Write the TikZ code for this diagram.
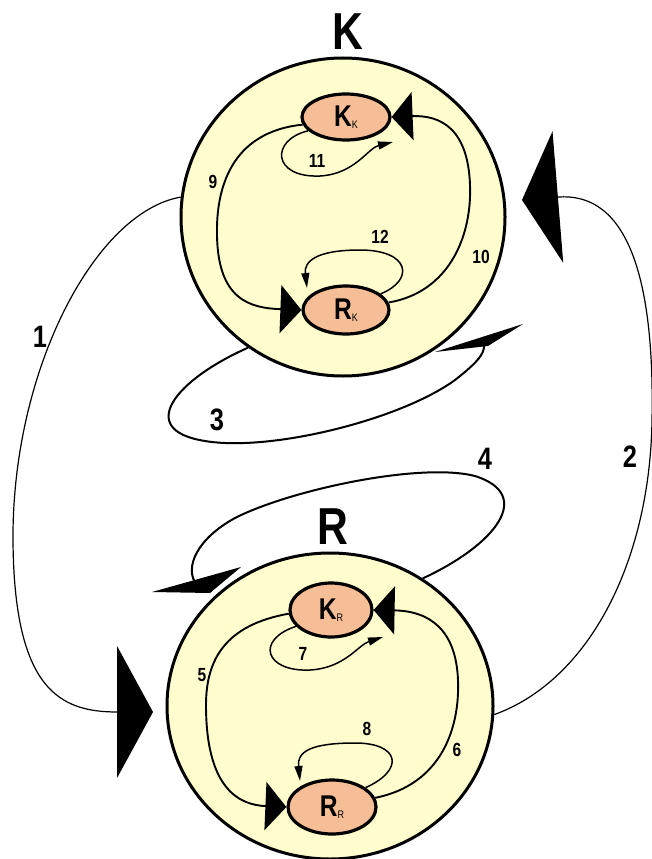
\documentclass[tikz,border=0pt]{standalone}
\usepackage{fontspec}
\setmainfont[FakeStretch=0.82]{Liberation Sans}
\usetikzlibrary{shapes.geometric,arrows.meta}
\definecolor{cream}{RGB}{255,253,205}
\definecolor{peach}{RGB}{245,190,150}
\newcommand\stlbl[2]{{\fontsize{30}{30}\selectfont\bfseries #1}\raisebox{-1.5pt}{\fontsize{11}{11}\selectfont #2}}
\tikzset{
  bigcirc/.style={ellipse, draw, line width=3pt, fill=cream, inner sep=0pt},
  statenode/.style={ellipse, draw, line width=3.2pt, fill=peach, inner sep=0pt},
  inarrow/.style={line width=1.9pt, -{Triangle[length=21pt,width=48pt]}},
  loopline/.style={line width=1.5pt, -{Triangle[length=15pt,width=8pt]}},
  outarrow/.style={line width=1.2pt, -{Triangle[length=36pt,width=132pt]}},
  swirl/.style={line width=2pt},
  wedge/.style={fill=black},
  biglbl/.style={font=\bfseries\fontsize{31}{31}\selectfont, inner sep=0pt},
  smlbl/.style={font=\bfseries\fontsize{19}{19}\selectfont, inner sep=0pt},
  title/.style={font=\bfseries\fontsize{52}{52}\selectfont, inner sep=0pt}
}
\begin{document}
\begin{tikzpicture}[x=1pt,y=-1pt]
\useasboundingbox (0,0) rectangle (651,859);
% big circles
\node[bigcirc, minimum width=324pt, minimum height=318pt] (Kc) at (343,217) {};
\node[bigcirc, minimum width=326pt, minimum height=306pt] (Rc) at (330,706) {};
% titles
\node[title] (tK) at (348,32) {K};
\node[title] (tR) at (333,527) {R};
% state nodes
\node[statenode, minimum width=88pt, minimum height=46pt] (KK) at (346,117) {\stlbl{K}{K}};
\node[statenode, minimum width=86pt, minimum height=48pt] (RK) at (346,310) {\stlbl{R}{K}};
\node[statenode, minimum width=82pt, minimum height=54pt] (KR) at (331,610) {\stlbl{K}{R}};
\node[statenode, minimum width=88pt, minimum height=54pt] (RR) at (332,807) {\stlbl{R}{R}};
% free ends
\coordinate (t1) at (153,712);
\coordinate (t2) at (522,200);
\coordinate (e3) at (484,346);
\coordinate (e4) at (195,582);
\coordinate (e7) at (383,637);
\coordinate (e8) at (300,781);
\coordinate (e11) at (393,142);
\coordinate (e12) at (307,288);
% outer arrows 1 and 2
\draw[outarrow] (Kc.173) .. controls (95,212) and (12,370) .. (13,540)
   .. controls (14,690) and (60,712) .. (t1);
\draw[outarrow] (Rc.-3) .. controls (590,680) and (650,560) .. (652,420)
   .. controls (655,260) and (620,192) .. (t2);
% swirl 3
\draw[swirl] (Kc.234) .. controls (175,380) and (135,430) .. (205,441)
   .. controls (270,452) and (400,420) .. (455,380)
   .. controls (478,362) and (484,354) .. (e3);
\fill[wedge] (435,352) -- (523,324) -- (488,346) -- cycle;
% swirl 4
\draw[swirl] (Rc.54) .. controls (495,545) and (535,495) .. (475,476)
   .. controls (420,462) and (290,490) .. (235,518)
   .. controls (195,540) and (186,568) .. (e4);
\fill[wedge] (152,592) -- (241,567) -- (210,593) -- cycle;
% inner arrows, top circle
\draw[inarrow] (KK.190) .. controls (230,132) and (216,190) .. (217,235)
   .. controls (218,300) and (250,308) .. (RK.west);
\draw[inarrow] (RK.10) .. controls (450,292) and (472,235) .. (470,185)
   .. controls (468,128) and (440,115) .. (KK.east);
\draw[loopline] (KK.200) .. controls (270,140) and (272,178) .. (320,176)
   .. controls (355,174) and (368,148) .. (e11);
\draw[loopline] (RK.25) .. controls (415,280) and (410,250) .. (360,250)
   .. controls (315,250) and (304,262) .. (e12);
% inner arrows, bottom circle
\draw[inarrow] (KR.185) .. controls (225,625) and (206,660) .. (206,705)
   .. controls (206,790) and (240,805) .. (RR.west);
\draw[inarrow] (RR.12) .. controls (440,785) and (460,730) .. (458,680)
   .. controls (456,630) and (430,611) .. (KR.east);
\draw[loopline] (KR.205) .. controls (255,640) and (265,672) .. (310,670)
   .. controls (345,668) and (358,645) .. (e7);
\draw[loopline] (RR.30) .. controls (405,770) and (400,743) .. (355,743)
   .. controls (310,743) and (297,752) .. (e8);
% labels
\node[biglbl] (l1) at (40,337) {1};
\node[biglbl] (l2) at (630,457) {2};
\node[biglbl] (l3) at (217,420) {3};
\node[biglbl] (l4) at (485,459) {4};
\node[smlbl] (l5) at (202,675) {5};
\node[smlbl] (l6) at (457,750) {6};
\node[smlbl] (l7) at (303,654) {7};
\node[smlbl] (l8) at (367,729) {8};
\node[smlbl] (l9) at (213,182) {9};
\node[smlbl] (l10) at (481,257) {10};
\node[smlbl] (l11) at (317,161) {11};
\node[smlbl] (l12) at (380,237) {12};
\end{tikzpicture}
\end{document}
